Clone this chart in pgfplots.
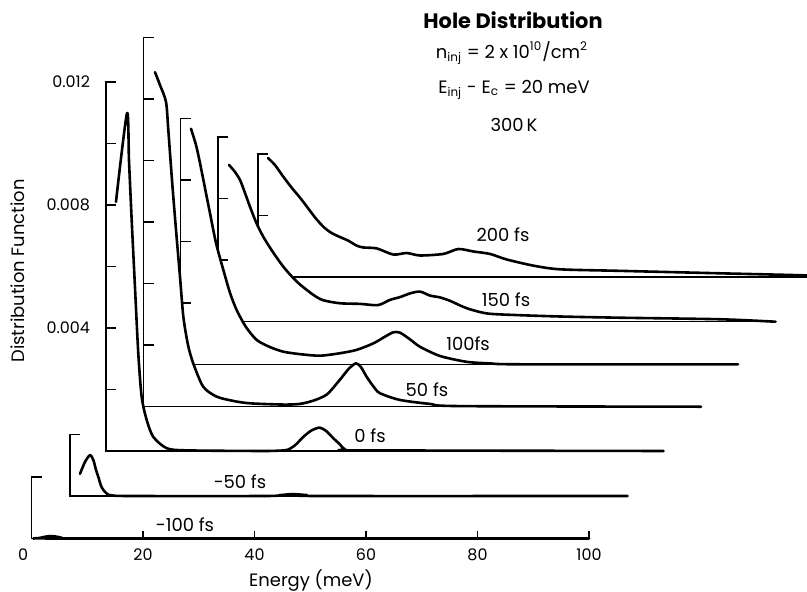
\documentclass[border=0pt]{standalone}
\usepackage{fontspec}
\setmainfont{Poppins}
\usepackage{pgfplots}
\pgfplotsset{compat=1.18}
\usepackage{pgfplotstable}

% hole distribution, one table per delay: energy (meV), distribution function
% first row repeats the start energy at zero so the white fill closes on the baseline
\pgfplotstableread{
E f
0.3 0
0.3 0
1.5 0.00002
2.5 0.00006
3.5 0.00008
4.5 0.00006
5.5 0.00002
6.5 0
100 0
}\tMa
\pgfplotstableread{
E f
1.79 0
1.79 0.00072
2.69 0.00111
3.59 0.00133
4.18 0.00117
4.66 0.00085
5.08 0.00062
5.56 0.00033
5.97 0.00020
6.64 0.00007
7.48 0.00002
10.8 0
35 0
37.7 0.00003
40 0.00006
42.5 0.00003
44.8 0
100 0
}\tMb
\pgfplotstableread{
E f
1.79 0
1.79 0.00810
3.77 0.01099
4.13 0.00943
4.61 0.00751
5.20 0.00533
5.79 0.00319
6.40 0.00176
7.30 0.00101
8.48 0.00046
10.89 0.00009
14.47 0.00002
27.6 0
31.0 0.00001
32.6 0.00004
34.0 0.00020
35.4 0.00046
36.8 0.00066
38.3 0.00076
39.5 0.00065
40.8 0.00041
42.0 0.00021
42.9 0.00005
45.6 0.00002
100 0
}\tZ
\pgfplotstableread{
E f
2.06 0
2.06 0.01088
2.96 0.01046
4.04 0.00991
4.45 0.00900
5.11 0.00737
5.83 0.00575
6.55 0.00422
7.15 0.00292
7.98 0.00201
8.92 0.00141
10.71 0.00065
13.09 0.00033
16.05 0.00019
19.1 0.00011
25.0 0.00007
28.0 0.00009
30.5 0.00020
32.9 0.00040
35.2 0.00087
36.8 0.00123
38.1 0.00141
39.0 0.00129
40.0 0.00098
41.2 0.00067
42.4 0.00044
46.0 0.00022
51.4 0.00009
56.8 0.00002
100 0
}\tA
\pgfplotstableread{
E f
1.88 0
1.88 0.00766
2.78 0.00713
3.50 0.00654
4.39 0.00573
5.29 0.00491
6.37 0.00394
7.68 0.00307
8.88 0.00232
10.08 0.00176
11.75 0.00121
13.67 0.00079
16.05 0.00056
18.44 0.00041
21.43 0.00033
25.02 0.00028
28.61 0.00036
31.61 0.00047
34.58 0.00068
36.68 0.00090
38.17 0.00104
39.37 0.00103
41.17 0.00081
42.96 0.00057
46.55 0.00027
51.34 0.00008
55.5 0.00003
60.9 0
100 0
}\tB
\pgfplotstableread{
E f
1.97 0
1.97 0.00510
3.05 0.00487
3.95 0.00461
4.84 0.00419
5.74 0.00374
6.82 0.00324
8.13 0.00276
9.87 0.00226
11.71 0.00179
13.45 0.00143
14.71 0.00121
17.04 0.00088
18.83 0.00070
21.88 0.00060
25.47 0.00058
28.70 0.00054
30.85 0.00071
32.65 0.00080
34.44 0.00092
36.23 0.00098
38.03 0.00085
39.82 0.00079
41.61 0.00068
44.6 0.00044
48.2 0.00027
53.0 0.00022
61.3 0.00017
72.1 0.00013
90.0 0.00008
100 0
}\tC
\pgfplotstableread{
E f
1.79 0
1.79 0.00387
3.05 0.00364
4.54 0.00326
6.10 0.00289
7.53 0.00258
8.97 0.00224
10.3 0.00192
11.8 0.00162
13.2 0.00143
14.7 0.00130
16.2 0.00118
17.7 0.00102
18.9 0.00096
21.29 0.00093
24.27 0.00073
26.67 0.00078
29.06 0.00070
33.24 0.00075
35.93 0.00091
38.62 0.00083
41.61 0.00075
44.61 0.00057
49.38 0.00037
54.17 0.00025
64.9 0.00020
82.9 0.00012
98.5 0.00005
100 0
}\tD

\tikzset{
  frame/.style={black, line width=0.75bp},
  curve/.style={black, line width=1.3bp, smooth, tension=0.45, line join=round, line cap=round},
}
% panel #1 shifted by (#2 meV, #3)
\newcommand{\panelfill}[3]{\addplot[draw=none, fill=white, smooth, tension=0.45] table[x expr=\thisrow{E}+#2, y expr=\thisrow{f}+#3] {#1};}
\newcommand{\panelcurve}[3]{\addplot[curve, skip coords between index={0}{1}] table[x expr=\thisrow{E}+#2, y expr=\thisrow{f}+#3] {#1};}
\newcommand{\frameP}[3]{\draw[frame] (axis cs:{#1+1.8},{#2+#3}) -- (axis cs:#1,{#2+#3}) -- (axis cs:#1,#2) -- (axis cs:{#1+100},#2);}
\newcommand{\tickP}[3]{\draw[frame] (axis cs:#1,{#2+#3}) -- (axis cs:{#1+1.8},{#2+#3});}
\newcommand{\lbl}{\fontsize{9}{10}\selectfont}
\newcommand{\tkl}{\fontsize{8}{9}\selectfont}

\begin{document}
\begin{tikzpicture}
\begin{axis}[scale only axis, width=403.5bp, height=296bp,
  xmin=-5.6502, xmax=139.1031, ymin=-0.0017398, ymax=0.0175122,
  hide axis, no markers, clip=true]
\path (rel axis cs:0,0) rectangle (rel axis cs:1,1);

% 200 fs
\panelfill{\tD}{40.63}{0.008504}
\frameP{40.63}{0.008504}{0.004}
\tickP{40.63}{0.008504}{0.002}
\panelcurve{\tD}{40.63}{0.008504}
% 150 fs
\panelfill{\tC}{33.45}{0.007050}
\frameP{33.45}{0.007050}{0.006}
\tickP{33.45}{0.007050}{0.002}
\tickP{33.45}{0.007050}{0.004}
\panelcurve{\tC}{33.45}{0.007050}
% 100 fs
\panelfill{\tB}{26.73}{0.005665}
\frameP{26.73}{0.005665}{0.008}
\tickP{26.73}{0.005665}{0.002}
\tickP{26.73}{0.005665}{0.004}
\tickP{26.73}{0.005665}{0.006}
\panelcurve{\tB}{26.73}{0.005665}
% 50 fs
\panelfill{\tA}{20.09}{0.004286}
\frameP{20.09}{0.004286}{0.012}
\tickP{20.09}{0.004286}{0.002}
\tickP{20.09}{0.004286}{0.004}
\tickP{20.09}{0.004286}{0.006}
\tickP{20.09}{0.004286}{0.008}
\tickP{20.09}{0.004286}{0.010}
\panelcurve{\tA}{20.09}{0.004286}
% 0 fs
\panelfill{\tZ}{13.36}{0.002846}
\frameP{13.36}{0.002846}{0.012}
\tickP{13.36}{0.002846}{0.002}
\tickP{13.36}{0.002846}{0.004}
\tickP{13.36}{0.002846}{0.006}
\tickP{13.36}{0.002846}{0.008}
\tickP{13.36}{0.002846}{0.010}
\panelcurve{\tZ}{13.36}{0.002846}
% -50 fs
\panelfill{\tMb}{6.91}{0.001382}
\frameP{6.91}{0.001382}{0.002}
\panelcurve{\tMb}{6.91}{0.001382}
% -100 fs
\panelfill{\tMa}{0}{0}
\frameP{0}{0}{0.002}
\panelcurve{\tMa}{0}{0}
\foreach \t in {20,40,60,80,100}{\edef\tmp{\noexpand\draw[frame] (axis cs:\t,0) -- (axis cs:\t,0.00023);}\tmp}

% texts
\node[font=\bfseries\fontsize{10.5}{12}\selectfont] at (axis cs:86.37,0.016862) {Hole Distribution};
\node[font=\lbl] at (axis cs:86.19,0.015789) {n\textsubscript{inj} = 2 x 10\textsuperscript{10}/cm\textsuperscript{2}};
\node[font=\lbl] at (axis cs:86.55,0.014585) {E\textsubscript{inj} - E\textsubscript{c} = 20 meV};
\node[font=\lbl] at (axis cs:86.55,0.013447) {300\,K};

\node[font=\lbl] at (axis cs:84.57,0.009870) {200 fs};
\node[font=\lbl] at (axis cs:85.11,0.007756) {150 fs};
\node[font=\lbl] at (axis cs:78.30,0.006325) {100fs};
\node[font=\lbl] at (axis cs:70.94,0.004829) {50 fs};
\node[font=\lbl] at (axis cs:60.72,0.003333) {0 fs};
\node[font=\lbl] at (axis cs:37.40,0.001837) {-50 fs};
\node[font=\lbl] at (axis cs:27.53,0.000439) {-100 fs};

\node[font=\tkl, anchor=east] at (axis cs:11.75,0.014846) {0.012};
\node[font=\tkl, anchor=east] at (axis cs:11.75,0.010846) {0.008};
\node[font=\tkl, anchor=east] at (axis cs:11.75,0.006846) {0.004};

\node[font=\tkl] at (axis cs:-1.5,-0.000537) {0};
\node[font=\tkl] at (axis cs:20,-0.000537) {20};
\node[font=\tkl] at (axis cs:40,-0.000537) {40};
\node[font=\tkl] at (axis cs:60,-0.000537) {60};
\node[font=\tkl] at (axis cs:80,-0.000537) {80};
\node[font=\tkl] at (axis cs:100,-0.000537) {100};

\node[font=\lbl] at (axis cs:50.13,-0.001382) {Energy (meV)};
\node[font=\lbl, rotate=90] at (axis cs:-2.42,0.008699) {Distribution Function};
\end{axis}
\end{tikzpicture}
\end{document}
